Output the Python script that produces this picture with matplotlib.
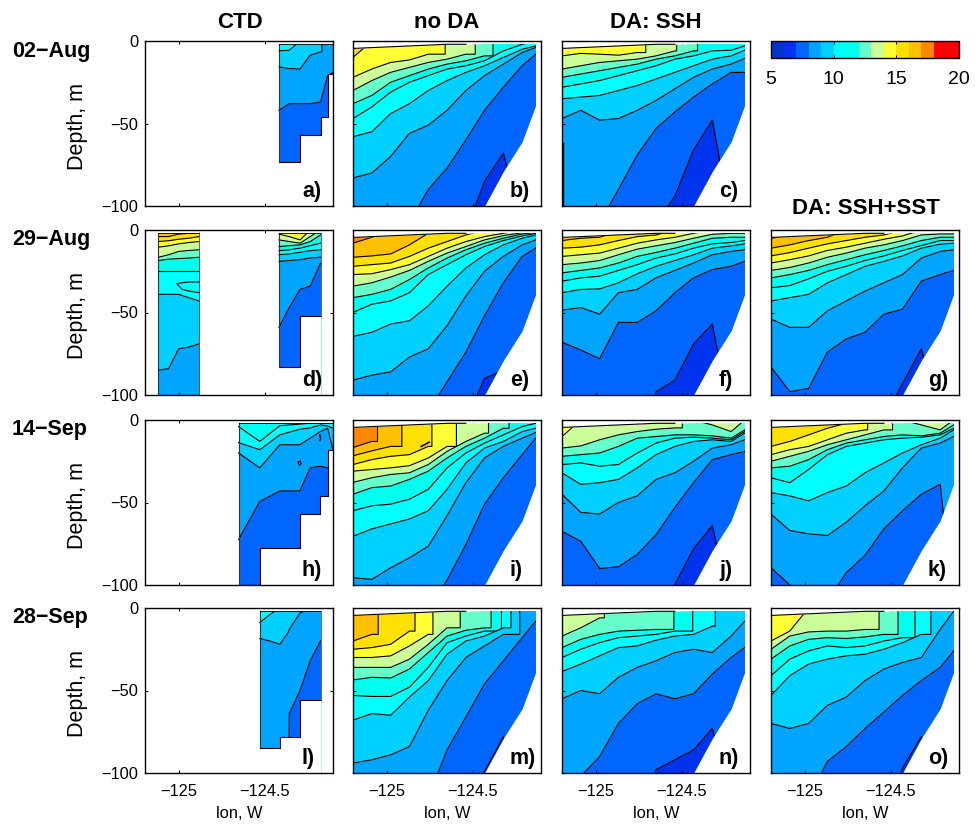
import matplotlib
matplotlib.use('Agg')
import matplotlib.pyplot as plt
from matplotlib.colors import ListedColormap, BoundaryNorm
from matplotlib.cm import ScalarMappable

plt.rcParams['font.family'] = ['Liberation Sans', 'DejaVu Sans']

# temperature bands (deg C) used by the sections and the colorbar
LEVELS = [5, 6, 7, 8, 9, 10, 11, 12, 13, 14, 15, 16, 17, 18, 20]
BAND_COLORS = ['#0033cc', '#0033ee', '#0066ff', '#00a5ff', '#00d0ff', '#00ffff', '#00ffee',
               '#66ffcc', '#ccff99', '#ffff33', '#ffe000', '#ffc000', '#ff8800', '#ff0000']
CBAR_TICKS = [5, 10, 15, 20]

ROW_LABELS = ['02\u2212Aug', '29\u2212Aug', '14\u2212Sep', '28\u2212Sep']
COL_TITLES = ['CTD', 'no DA', 'DA: SSH', 'DA: SSH+SST']

# model section: lon stations, surface and shelf bottom
LON = [-125.195, -125.086, -124.977, -124.868, -124.759, -124.65, -124.541, -124.433, -124.324, -124.215, -124.137]
SURFACE = [-4.5, -4, -3.5, -3, -2.5, -2, -2, -1.5, -1.5, -1.5, -1.5]
BOTTOM = [-100, -100, -100, -100, -100, -100, -100, -100, -79, -61, -39]

# isotherm depths (m) at each LON station, per panel
B_ISO = {15: [-10, 0, 0, 0, 0, 0, 0, 0, 0, 0, 0],
         14: [-22, -17, -13, -11.5, -8, 0, 0, 0, 0, 0, 0],
         13: [-30, -24, -19, -16, -13, -11, -8, 0, 0, 0, 0],
         12: [-38, -33, -25, -21, -17, -14, -12, -9, 0, 0, 0],
         11: [-47, -40, -31, -25, -21, -17, -15, -12, -6, -2, 0],
         10: [-58, -55, -44, -38, -30, -24, -19, -15, -10, -5, -3],
         9: [-83, -80, -70, -56, -51, -42, -30, -21, -14, -7, -4],
         8: [-150, -130, -125, -110, -90, -77, -60, -42, -28, -15, -8],
         7: [-150, -150, -150, -150, -150, -150, -115, -85, -68, -110, -130]}
B_WALLS = {14: -124.661, 13: -124.487, 12: -124.384}

C_ISO = {14: [-9, -7.5, -8, -8.6, -7, 0, 0, 0, 0, 0, 0],
         13: [-17, -15, -13, -12, -11, -9, -6, 0, 0, 0, 0],
         12: [-22, -20, -18, -16, -14, -11, -9, -6, 0, 0, 0],
         11: [-28, -26, -24, -21, -18, -15, -11, -9, -6, -5.6, -3],
         10: [-35, -34, -33, -30, -27, -23, -19, -15, -11, -9, -5.6],
         9: [-47, -42, -48, -47, -42, -36, -29, -22, -17, -14, -10.6],
         8: [-150, -130, -110, -90, -69, -53, -43, -34, -26, -19, -19],
         7: [-150, -150, -150, -150, -150, -110, -94, -66, -48, -110, -130]}
C_WALLS = {14: -124.71, 13: -124.531, 12: -124.41}
C_EDGE_LON = [-125.19, -125.19]
C_EDGE_DEPTH = [-62, -100]

E_ISO = {17: [-8, -4.4, 0, 0, 0, 0, 0, 0, 0, 0, 0],
         16: [-16.5, -15.7, -14.5, -9, -2, 0, 0, 0, 0, 0, 0],
         15: [-22, -21, -20, -16, -11, -7, -3, 0, 0, 0, 0],
         14: [-27, -26.5, -24, -21, -16, -11, -7, -4, -2, 0, 0],
         13: [-34, -32, -28.5, -24.5, -19, -14, -10, -6, -3.4, -1.6, 0],
         12: [-41, -39, -36, -30, -23, -17, -12, -8, -5, -2.4, -1.4],
         11: [-50, -45, -43, -38, -27, -21, -15, -10, -6.4, -3.6, -2],
         10: [-64.5, -62, -57, -55, -46, -34, -23, -15, -9, -5, -3],
         9: [-91, -88, -86, -77, -72, -58, -40, -25, -16, -9, -6],
         8: [-150, -150, -130, -115, -110, -92, -74, -52, -32, -16, -11],
         7: [-150, -150, -150, -150, -150, -150, -115, -90, -85, -115, -130]}

F_ISO = {16: [-6.4, -5, -4.4, -1, 0, 0, 0, 0, 0, 0, 0],
         15: [-11, -10.4, -9, -6.4, -4, -3, 0, 0, 0, 0, 0],
         14: [-16, -15, -14, -11, -8, -6, -4.4, -2, 0, 0, 0],
         13: [-21, -20, -18.5, -15, -11.6, -9.6, -7.6, -5, -2.6, -2, -2],
         12: [-26, -24.5, -23, -20, -16, -13.6, -11, -8, -5, -4.4, -4.4],
         11: [-31, -29, -28, -24.5, -21, -17, -14.5, -11, -8.4, -7.6, -6.4],
         10: [-38, -36, -35.7, -32, -26.5, -22, -18.5, -15, -11, -9.6, -8.4],
         9: [-48.6, -47, -51, -38, -36, -29, -24.5, -20, -15, -13, -12],
         8: [-68, -72.7, -78, -56, -56, -49, -38, -29, -24, -22, -19],
         7: [-150, -150, -150, -150, -150, -98, -91, -69, -57, -115, -130]}

G_ISO = {17: [-5, -3.4, 0, 0, 0, 0, 0, 0, 0, 0, 0],
         16: [-11, -9, -6.4, -4.4, 0, 0, 0, 0, 0, 0, 0],
         15: [-15.7, -13.7, -11, -8.4, -6.4, -4.4, -3, 0, 0, 0, 0],
         14: [-20, -18, -15.7, -12.4, -10.4, -8, -5.6, -3.6, 0, 0, 0],
         13: [-24.5, -22.7, -20, -16.5, -14, -11, -9, -6.4, -3, -2.4, -2.4],
         12: [-29, -27, -24.5, -21, -18, -15, -12.4, -9.6, -6.4, -4.4, -4.4],
         11: [-35, -33.7, -29.6, -25, -22, -18.5, -15.7, -12.4, -9.4, -6.4, -6.4],
         10: [-43, -41, -39, -32, -27, -22, -19, -15.7, -11, -8.6, -8],
         9: [-54, -59, -59, -49, -43, -37, -32, -27, -17, -13, -12],
         8: [-83, -98, -96, -74, -66, -62, -51, -48, -31, -27, -24.5],
         7: [-150, -150, -150, -150, -150, -150, -115, -93, -72, -115, -130]}

I_ISO = {17: [-16.7, -13, 0, 0, 0, 0, 0, 0, 0, 0, 0],
         16: [-21.7, -18.7, -16, 0, 0, 0, 0, 0, 0, 0, 0],
         15: [-27, -24, -22, -21, -16, 0, 0, 0, 0, 0, 0],
         14: [-31, -30, -29, -27.7, -23, -16, 0, 0, 0, 0, 0],
         13: [-37.8, -35, -33, -32, -27, -19, -13, -8, 0, 0, 0],
         12: [-45, -41, -40, -36, -31, -23, -16, -11, -5, 0, 0],
         11: [-55, -52, -51, -48, -42, -29, -20, -14, -9, -4, -2],
         10: [-70.5, -66, -63, -60, -55, -42, -26, -17, -13, -7, -5],
         9: [-95.6, -96.6, -89.6, -83.5, -76.5, -58, -38, -23, -16, -11, -7.6],
         8: [-150, -150, -150, -130, -115, -97, -75.5, -51, -35, -21, -11]}
I_WALLS = {17: -125.053, 16: -124.912, 15: -124.738, 14: -124.596, 13: -124.41, 12: -124.291}

J_ISO = {14: [-10, 0, 0, 0, 0, 0, 0, 0, 0, 0, 0],
         13: [-17, -15.7, -12, -9, -7, -5.6, -4.8, 0, -3, -7, 0],
         12: [-22, -21, -20, -16, -11, -10, -9, -9, -9.6, -11, -6],
         11: [-27, -26, -28, -27, -20, -14, -11, -10.4, -11, -12, -7],
         10: [-32, -39, -38, -36, -29, -21, -16, -13, -12, -13, -8],
         9: [-45, -56, -57, -50, -46, -36, -32, -25, -17, -15, -12],
         8: [-67.5, -73.5, -90, -89, -81.5, -69.5, -53, -38, -24, -21, -19],
         7: [-150, -150, -150, -150, -150, -130, -99.6, -78, -64, -115, -130]}
J_WALLS = {13: -124.498}

K_ISO = {15: [-16, -13, -9, -5, -2, 0, 0, 0, 0, 0, 0],
         14: [-21, -18, -16, -12, -8, -6, 0, 0, 0, 0, 0],
         13: [-25, -22, -19, -15, -12, -9, -6, 0, -3, -6, 0],
         12: [-29, -28, -24, -18, -14, -12, -10, -9, -9.6, -8, -3],
         11: [-35, -38, -30, -21, -16, -14, -12, -11, -10.4, -9, -5],
         10: [-44, -46, -49, -44, -40, -32, -26, -20, -15, -11, -6],
         9: [-57, -67, -69, -70, -62, -52, -43, -29, -17, -14, -10],
         8: [-89.5, -100, -115, -110, -92.5, -82, -66, -55, -45, -39, -115]}
K_WALLS = {15: -124.741, 14: -124.635, 13: -124.491}

M_ISO = {16: [-20, -16, 0, 0, 0, 0, 0, 0, 0, 0, 0],
         15: [-25, -24, -22, -14, 0, 0, 0, 0, 0, 0, 0],
         14: [-30, -30, -29, -23, -16, 0, 0, 0, 0, 0, 0],
         13: [-36, -36, -36, -31, -22, -12, 0, 0, 0, 0, 0],
         12: [-43.6, -42, -42.4, -37, -27, -17, -13.5, -12, 0, 0, 0],
         11: [-53, -53.6, -53.6, -48, -36, -21, -17, -14, 0, 0, 0],
         10: [-68, -64, -65, -54, -44, -28, -20, -17, -12, 0, 0],
         9: [-94, -92, -89, -84, -62, -44, -30, -23, -16, 0, 0],
         8: [-150, -150, -150, -130, -115, -86, -66, -46, -32, -18, -8],
         7: [-150, -150, -150, -150, -150, -150, -120, -99, -78, -115, -130]}
M_WALLS = {16: -125.049, 15: -124.836, 14: -124.732, 13: -124.574, 12: -124.395, 11: -124.335, 10: -124.28, 9: -124.229}

N_ISO = {13: [-17, -12, -6, 0, 0, 0, 0, 0, 0, 0, 0],
         12: [-24, -19, -16, -14, -13.5, -13, 0, 0, 0, 0, 0],
         11: [-30, -25, -21, -18, -17, -16, -14, 0, 0, 0, 0],
         10: [-38.5, -34, -29, -24, -23, -19.5, -17, -16, -11, 0, 0],
         9: [-55, -50, -52, -42, -36, -32, -27, -25, -27, -17, -8],
         8: [-130, -102, -90, -70, -58, -52, -55, -52, -40, -30, -24],
         7: [-150, -150, -150, -150, -130, -98, -92, -86, -73, -115, -130]}
N_WALLS = {13: -124.95, 12: -124.547, 11: -124.438, 10: -124.307}

O_ISO = {14: [-20, -14, 0, 0, 0, 0, 0, 0, 0, 0, 0],
         13: [-25, -17, -14.5, -14, -14, -13, 0, 0, 0, 0, 0],
         12: [-31, -23, -19, -18, -18.5, -17.5, -16, 0, 0, 0, 0],
         11: [-41, -31, -26, -23, -24, -23, -20, -18, 0, 0, 0],
         10: [-53, -41, -34, -31, -29, -28, -25, -21, -16, 0, 0],
         9: [-70, -73, -70, -59, -54, -44, -37, -33, -30, -13, -2],
         8: [-150, -130, -115, -93, -84, -73, -63, -53, -44, -36, -26],
         7: [-150, -150, -150, -150, -150, -150, -130, -97, -78, -115, -130]}
O_WALLS = {13: -124.569, 12: -124.459, 11: -124.361, 10: -124.269}

# CTD sections: own stations, isotherm depths, stepped bottom
A_LON = [-124.419, -124.359, -124.297, -124.238, -124.178, -124.137, -124.106]
A_ISO = {10: [-6, -5.6, 0, 0, 0, 0, 0],
         9: [-15.7, -16.7, -17, -8.6, -6.6, 0, 0],
         8: [-42, -38, -38, -38, -37, -21, -19]}
A_WALLS = {9: -124.17}
A_EDGES = [-124.419, -124.297, -124.178, -124.137, -124.106]
A_BOTTOM = [-73.5, -57, -46, -20]

D1_LON = [-125.117, -125.058, -125.0, -124.942, -124.882]
D1_ISO = {16: [-4, -4, -2.5, -2, -2],
          15: [-7, -6.5, -5.6, -5, -4],
          14: [-10.4, -9.6, -8.4, -7.6, -7],
          13: [-16.5, -15, -13, -12.4, -12],
          12: [-18.5, -17.7, -17.3, -17, -16.5],
          11: [-25, -25, -25, -25, -25],
          10: [-39, -39, -39, -41, -43],
          9: [-85, -84, -72, -71, -69]}
D1_EDGES = [-125.117, -124.882]
D1_BOTTOM = [-100]

D2_LON = [-124.419, -124.359, -124.297, -124.238, -124.178]
D2_ISO = {14: [-2.5, -4, -6, 0, 0],
          13: [-6, -7, -8, -4, 0],
          12: [-10, -9.5, -9, -7, -3],
          11: [-12.5, -12, -11, -9.5, -8],
          10: [-15, -14.5, -13.5, -12.5, -12],
          9: [-19, -18.5, -18, -17, -16.5],
          8: [-59, -47, -36, -34, -20]}
D2_EDGES = [-124.419, -124.297, -124.178]
D2_BOTTOM = [-83, -52]

H_LON = [-124.653, -124.53, -124.414, -124.298, -124.238, -124.179, -124.137, -124.106]
H_ISO = {11: [-4, -13, -3.5, -2.5, -2, -1.5, -2, 0],
         10: [-13.7, -18, -9, -5.6, -4.8, -3, -3.6, -5],
         9: [-20, -29, -15, -15, -11, -7, -5, -18],
         8: [-72.5, -49.4, -43, -43, -29, -28, -29, -30]}
H_EDGES = [-124.653, -124.53, -124.298, -124.179, -124.137, -124.106]
H_BOTTOM = [-100, -77.5, -57, -46, -18]

L_LON = [-124.53, -124.472, -124.414, -124.367, -124.359, -124.297, -124.238, -124.178]
L_ISO = {10: [-8.8, -4, 0, 0, 0, 0, 0, 0],
         9: [-18.5, -20, -22, -15, -13, -3, 0, 0],
         8: [-130, -130, -130, -130, -64, -50, -32, -20]}
L_EDGES = [-124.53, -124.414, -124.297, -124.178]
L_BOTTOM = [-85, -78, -56]

# small closed contours: lon, depth
D_LENS_LON = [-125.01, -124.98, -124.94, -124.882]
D_LENS_DEPTH = [-32.5, -36, -37, -38]
D_LENS_TOP = [-32.5, -32, -31.5, -31.5]
H_BLOB_LON = [-124.308, -124.296, -124.29, -124.3, -124.308]
H_BLOB_DEPTH = [-25.5, -24.8, -26.5, -27.5, -25.5]
H_BLOB2_LON = [-124.182, -124.178, -124.182]
H_BLOB2_DEPTH = [-9, -11, -12.5]
I_BLOB_LON = [-124.8, -124.78, -124.755]
I_BLOB_DEPTH = [-16, -15, -13.5]

XLIM = (-125.195, -124.106)
XTICKS = [-125, -124.5]
YTICKS = [-100, -50, 0]

COL_X = [145, 353, 562, 771]
ROW_Y = [41, 230, 420, 608]
PANEL_W, PANEL_H = 188, 165
FIG_W, FIG_H = 975, 825


def px_axes(fig, x, y, w, h):
    return fig.add_axes([x / FIG_W, 1 - (y + h) / FIG_H, w / FIG_W, h / FIG_H])


def band_color(level):
    # colour of the band that starts at this temperature
    for i in range(len(LEVELS) - 1):
        if LEVELS[i] <= level < LEVELS[i + 1]:
            return BAND_COLORS[i]
    return BAND_COLORS[-1]


def with_wall(lon, depth, wall):
    # isotherm that climbs straight to the surface at lon = wall
    if wall is None:
        return lon, depth
    n = sum(1 for x in lon if x < wall)
    return lon[:n] + [wall, wall] + lon[n:], depth[:n] + [depth[n - 1], 0] + depth[n:]


def draw_bands(ax, lon, iso, walls):
    warmest = max(iso)
    x, y = with_wall(lon, iso[warmest], walls.get(warmest))
    ax.fill_between(x, 0, y, color=band_color(warmest), lw=0, zorder=1)
    for temp in sorted(iso, reverse=True):
        x, y = with_wall(lon, iso[temp], walls.get(temp))
        ax.fill_between(x, y, -160, color=band_color(temp - 1), lw=0, zorder=1)
        ax.plot(x, y, color='k', lw=0.8, zorder=1)


def draw_model(ax, iso, walls={}):
    draw_bands(ax, LON, iso, walls)
    ax.fill_between(LON, SURFACE, 0, color='w', lw=0, zorder=3)
    ax.fill_between(LON, BOTTOM, -100, color='w', lw=0, zorder=3)
    ax.axvspan(LON[-1], XLIM[1], color='w', lw=0, zorder=3)
    ax.plot(LON[:7], SURFACE[:7], color='k', lw=0.8, zorder=4)


def draw_ctd(ax, lon, iso, edges, bottom, walls={}, top=-2):
    draw_bands(ax, lon, iso, walls)
    steps = bottom + [bottom[-1]]
    ax.fill_between(lon, top, 0, color='w', lw=0, zorder=3)
    ax.fill_between(edges, steps, -160, step='post', color='w', lw=0, zorder=3)
    ax.step(edges, steps, where='post', color='k', lw=0.8, zorder=4)
    ax.plot([lon[0], lon[0]], [top, bottom[0]], color='#333333', lw=0.8, zorder=4)
    ax.plot([lon[0], lon[-1]], [top, top], color='k', lw=0.6, zorder=4)
    ax.plot([edges[-1], edges[-1]], [top, bottom[-1]], color='#555555', lw=0.6, zorder=4)


fig = plt.figure(figsize=(FIG_W / 100, FIG_H / 100), dpi=100)

# (row, col, letter)
axes = {}
letters = {(0, 0): 'a)', (0, 1): 'b)', (0, 2): 'c)',
           (1, 0): 'd)', (1, 1): 'e)', (1, 2): 'f)', (1, 3): 'g)',
           (2, 0): 'h)', (2, 1): 'i)', (2, 2): 'j)', (2, 3): 'k)',
           (3, 0): 'l)', (3, 1): 'm)', (3, 2): 'n)', (3, 3): 'o)'}

for (row, col), letter in letters.items():
    ax = px_axes(fig, COL_X[col], ROW_Y[row], PANEL_W, PANEL_H)
    axes[letter] = ax
    ax.set_xlim(XLIM)
    ax.set_ylim(-100, 0)
    ax.set_xticks(XTICKS)
    ax.set_yticks(YTICKS)
    ax.tick_params(direction='in', length=2, width=0.7, top=True, right=True, labelsize=11.8)
    ax.tick_params(axis='x', pad=8)
    ax.tick_params(axis='y', pad=5)
    for spine in ax.spines.values():
        spine.set_linewidth(1.0)
        spine.set_zorder(6)
    if row == 3:
        ax.set_xticklabels(['\u2212125', '\u2212124.5'])
        ax.set_xlabel('lon, W', fontsize=11.8, va='center')
        ax.xaxis.set_label_coords(0.5, -40 / PANEL_H)
    else:
        ax.set_xticklabels([])
    if col == 0:
        ax.set_yticklabels(['\u2212100', '\u221250', '0'])
        ax.set_ylabel('Depth, m', fontsize=15.5, va='center')
        ax.yaxis.set_label_coords(-67 / PANEL_W, 0.48)
    else:
        ax.set_yticklabels([])
    ax.text(0.835, 0.025, letter, transform=ax.transAxes, fontsize=15.5, fontweight='bold',
            ha='left', va='bottom', zorder=7)

draw_model(axes['b)'], B_ISO, B_WALLS)
draw_model(axes['c)'], C_ISO, C_WALLS)
draw_model(axes['e)'], E_ISO)
draw_model(axes['f)'], F_ISO)
draw_model(axes['g)'], G_ISO)
draw_model(axes['i)'], I_ISO, I_WALLS)
draw_model(axes['j)'], J_ISO, J_WALLS)
draw_model(axes['k)'], K_ISO, K_WALLS)
draw_model(axes['m)'], M_ISO, M_WALLS)
draw_model(axes['n)'], N_ISO, N_WALLS)
draw_model(axes['o)'], O_ISO, O_WALLS)

draw_ctd(axes['a)'], A_LON, A_ISO, A_EDGES, A_BOTTOM, A_WALLS)
draw_ctd(axes['d)'], D1_LON, D1_ISO, D1_EDGES, D1_BOTTOM)
draw_ctd(axes['d)'], D2_LON, D2_ISO, D2_EDGES, D2_BOTTOM)
draw_ctd(axes['h)'], H_LON, H_ISO, H_EDGES, H_BOTTOM)
draw_ctd(axes['l)'], L_LON, L_ISO, L_EDGES, L_BOTTOM)

axes['c)'].plot(C_EDGE_LON, C_EDGE_DEPTH, color='k', lw=1.0, zorder=5)
axes['d)'].plot(D_LENS_LON, D_LENS_DEPTH, color='k', lw=0.8, zorder=5)
axes['d)'].plot(D_LENS_LON, D_LENS_TOP, color='k', lw=0.8, zorder=5)
axes['h)'].plot(H_BLOB_LON, H_BLOB_DEPTH, color='k', lw=0.8, zorder=5)
axes['h)'].plot(H_BLOB2_LON, H_BLOB2_DEPTH, color='k', lw=1.0, zorder=5)
axes['i)'].plot(I_BLOB_LON, I_BLOB_DEPTH, color='k', lw=1.2, zorder=5)

# colorbar
cax = px_axes(fig, 771, 41, 188, 17)
cmap = ListedColormap(BAND_COLORS)
norm = BoundaryNorm(LEVELS, cmap.N)
cbar = fig.colorbar(ScalarMappable(norm=norm, cmap=cmap), cax=cax, orientation='horizontal',
                    spacing='proportional', ticks=CBAR_TICKS)
cbar.ax.tick_params(direction='in', length=2, width=0.7, top=True, labelsize=14, pad=9)
cbar.minorticks_off()
cbar.outline.set_linewidth(1.0)

# column titles and row labels
fig.text(240 / FIG_W, 1 - 22 / FIG_H, COL_TITLES[0], fontsize=16, fontweight='bold', ha='center', va='center')
fig.text(447 / FIG_W, 1 - 22 / FIG_H, COL_TITLES[1], fontsize=16, fontweight='bold', ha='center', va='center')
fig.text(656 / FIG_W, 1 - 22 / FIG_H, COL_TITLES[2], fontsize=16, fontweight='bold', ha='center', va='center')
fig.text(866 / FIG_W, 1 - 208 / FIG_H, COL_TITLES[3], fontsize=16, fontweight='bold', ha='center', va='center')
for label, y in zip(ROW_LABELS, [52, 240, 429, 618]):
    fig.text(12 / FIG_W, 1 - y / FIG_H, label, fontsize=15.5, fontweight='bold', ha='left', va='center')

fig.savefig('out.png', dpi=100)
